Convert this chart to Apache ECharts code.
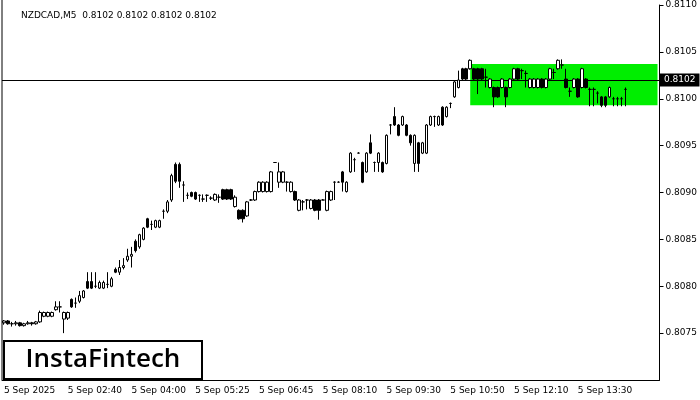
<!DOCTYPE html>
<html><head><meta charset="utf-8">
<script src="https://cdn.jsdelivr.net/npm/echarts@6/dist/echarts.min.js"></script>
<style>html,body{margin:0;padding:0;background:#fff}#c{width:700px;height:400px}</style>
</head><body><div id="c"></div>
<script>
// OHLC in units of 0.00001 above 0.80000
const opens=[761,763,760,760,761,758,760,761,760,762,768,768,768,775,778,765,766,786,782,784,788,805,805,800,798,798,802,800,818,815,820,828,832,848,842,850,872,866,863,863,880,880,892,930,930,908,897,900,900,897,893,897,894,892,895,903,903,903,885,881,881,875,892,892,901,901,901,901,932,911,911,911,901,901,881,890,892,883,892,892,892,881,892,911,911,922,901,922,935,942,932,922,953,932,932,932,931,972,981,972,972,972,961,931,953,942,942,972,981,972,991,981,995,1002,1012,1032,1032,1032,1032,1032,1032,1023,1012,1012,1012,1012,1012,1012,1021,1032,1030,1027,1012,1012,1012,1021,1012,1021,1028,1032,1036,1021,1008,1012,1021,1012,1021,1010,1010,1006,1002,1002,1002,1000,1000,1000,1010];
const closes=[763,760,760,761,758,760,761,760,762,772,772,772,772,778,778,772,772,778,782,790,795,798,798,800,804,804,802,808,815,820,822,832,834,838,855,862,863,866,870,870,880,890,918,912,912,908,897,896,893,897,893,897,894,898,895,893,893,893,895,872,872,890,892,901,911,911,911,922,932,922,922,911,911,892,892,890,892,892,881,881,892,901,901,911,911,911,911,942,935,942,911,942,942,932,942,922,961,972,972,961,981,961,953,961,931,953,972,981,981,981,972,991,995,1018,1020,1021,1021,1041,1021,1021,1021,1023,1021,1002,1002,1021,1002,1021,1032,1021,1030,1027,1021,1021,1021,1012,1021,1032,1028,1041,1036,1012,1008,1021,1002,1032,1012,1010,1010,1006,993,993,1012,1000,1000,1000,1010];
const lows=[759,759,757,758,757,757,759,758,759,761,767,767,767,774,772,750,764,777,777,782,787,797,797,798,797,797,798,799,814,812,818,826,820,836,840,849,862,860,862,862,872,878,890,910,905,890,893,895,892,890,890,890,892,891,889,892,892,892,884,871,868,874,891,891,900,900,900,900,932,905,910,901,900,891,880,881,882,882,880,871,892,880,891,892,911,901,900,921,922,942,910,921,941,922,922,921,930,962,971,960,971,960,950,922,922,941,941,971,970,971,971,980,990,1001,1011,1020,1020,1031,1020,1005,1020,1012,1011,991,1001,1011,991,1011,1020,1020,1021,1012,1011,1011,1011,1011,1011,1020,1021,1031,1032,1011,1002,1011,1001,1011,1011,992,992,995,991,991,1001,992,992,992,992];
const highs=[764,764,762,763,762,761,763,762,763,774,773,773,773,784,784,773,773,787,788,795,796,815,815,815,806,806,815,810,820,828,830,840,842,850,856,863,873,870,871,871,882,892,920,932,932,912,900,901,901,898,898,898,896,899,898,904,904,904,897,882,882,891,893,902,912,912,912,923,932,932,923,912,912,902,893,892,893,893,893,893,893,902,902,912,912,923,912,943,937,943,933,943,962,933,943,933,962,973,991,973,982,973,962,962,954,954,973,982,982,982,992,992,996,1019,1030,1033,1033,1042,1033,1033,1033,1032,1022,1013,1013,1022,1013,1022,1033,1033,1032,1030,1022,1022,1022,1022,1022,1033,1032,1042,1042,1032,1012,1022,1022,1033,1022,1012,1012,1008,1003,1003,1013,1002,1002,1002,1012];
const tickLabels=['5 Sep 2025','5 Sep 02:40','5 Sep 04:00','5 Sep 05:25','5 Sep 06:45','5 Sep 08:10','5 Sep 09:30','5 Sep 10:50','5 Sep 12:10','5 Sep 13:30','',''];
const slots=165;
const lastPrice=0.8102;
const boxLow=0.80993, boxHigh=0.81037, boxStart=117;

const p=v=>+(0.8+v/100000).toFixed(5);
const cats=[];for(let i=0;i<slots;i++)cats.push(String(i));
const data=opens.map((o,i)=>[p(o),p(closes[i]),p(lows[i]),p(highs[i])]);

const chart=echarts.init(document.getElementById('c'),null,{renderer:'canvas'});
chart.setOption({
  animation:false,
  title:{text:'NZDCAD,M5  0.8102 0.8102 0.8102 0.8102',left:16,top:6,textStyle:{fontSize:9,fontWeight:'normal',color:'#000',fontFamily:'DejaVu Sans'}},
  grid:{left:2,right:40,top:5,bottom:20},
  xAxis:{type:'category',data:cats,boundaryGap:true,
    axisLine:{lineStyle:{color:'#000'}},
    axisTick:{alignWithLabel:true,interval:(i)=>i%16===0,lineStyle:{color:'#000'}},
    axisLabel:{interval:0,align:'left',fontSize:9,color:'#000',fontFamily:'DejaVu Sans',margin:6,
      formatter:(v,i)=> i%16===0 ? (tickLabels[i/16]||'') : ''},
    splitLine:{show:false}},
  yAxis:{type:'value',position:'right',min:0.8070,max:0.8110,interval:0.0005,
    axisLine:{show:true,lineStyle:{color:'#000'}},
    axisTick:{show:true,length:4,lineStyle:{color:'#000'}},
    axisLabel:{showMinLabel:false,fontSize:9,color:'#000',fontFamily:'DejaVu Sans',margin:6,formatter:v=>v.toFixed(4)},
    splitLine:{show:false}},
  series:[
    {type:'line',data:[],z:1,
      markArea:{silent:true,itemStyle:{color:'#00ee00'},
        data:[[{xAxis:cats[boxStart],yAxis:boxHigh},{xAxis:cats[slots-1],yAxis:boxLow}]]},
      markLine:{silent:true,symbol:'none',precision:5,lineStyle:{color:'#000',width:1,type:'solid'},
        label:{position:'end',formatter:lastPrice.toFixed(4),backgroundColor:'#000',color:'#fff',fontSize:9,padding:[2,4],distance:0,fontFamily:'DejaVu Sans'},
        data:[[{coord:[cats[0],lastPrice],x:2},{coord:[cats[slots-1],lastPrice],x:660}]]}},
    {type:'candlestick',data:data,z:5,barWidth:3,
      itemStyle:{color:'#fff',color0:'#000',borderColor:'#000',borderColor0:'#000',borderWidth:1}}
  ],
  graphic:[
    {type:'line',shape:{x1:2,y1:0,x2:2,y2:380},style:{stroke:'#000',lineWidth:1}},
    {type:'group',left:3,top:340,children:[
      {type:'rect',shape:{x:0,y:0,width:198,height:38},style:{fill:'#fff',stroke:'#000',lineWidth:2}},
      {type:'text',style:{x:99,y:19,text:'InstaFintech',align:'center',verticalAlign:'middle',font:'600 26px "Open Sans", sans-serif',fill:'#000'}}
    ]}
  ]
});
</script></body></html>
